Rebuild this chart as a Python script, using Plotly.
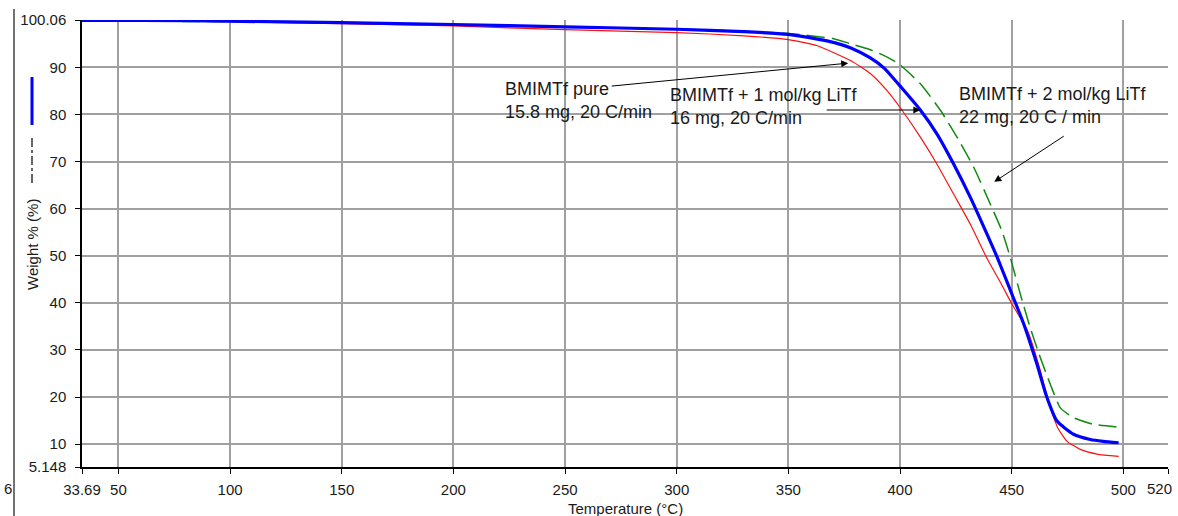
import plotly.graph_objects as go

# ---- data ----
temp_pure = [33.69, 60, 100, 150, 200, 250, 300, 330, 350, 363, 378, 386.7, 394.1, 400.9, 409.1,
             416.5, 424, 431.5, 439.1, 445.1, 450.3, 457.2, 462.9, 466.3, 470.6, 474.8, 480.7, 488.2, 497.9]
wt_pure = [99.9, 99.9, 99.7, 99.3, 98.8, 98.0, 97.4, 96.7, 95.9, 94.6, 91.4, 88.7, 85.1, 80.9, 75.2,
           69.5, 63.1, 56.7, 49.3, 44.2, 39.6, 34.0, 25.5, 19.1, 13.5, 10.6, 8.9, 7.9, 7.4]

temp_1mol = [33.69, 60, 100, 150, 200, 250, 300, 330, 350, 363, 371, 378, 386.7, 393, 401, 409, 416.5,
             424, 431.5, 438, 443.4, 449.4, 455.4, 461.3, 465.8, 470.3, 477.7, 485.2, 491, 497.9]
wt_1mol = [100.0, 100.0, 99.8, 99.5, 99.1, 98.6, 98.1, 97.6, 97.0, 96.0, 95.2, 94.1, 92.0, 89.8, 85.5, 81.0, 75.9,
           69.5, 62.4, 55.6, 49.8, 42.7, 35.5, 27.0, 19.9, 14.9, 12.1, 11.0, 10.6, 10.3]

temp_2mol = [33.69, 60, 100, 150, 200, 250, 300, 330, 350, 370.2, 378, 385.2, 392, 399.3, 409.1, 418.1,
             425.5, 433, 440.4, 445.6, 449.4, 453.9, 458.3, 462.8, 467.3, 471.8, 477.7, 486.7, 497.9]
wt_2mol = [99.8, 99.8, 99.7, 99.4, 99.0, 98.6, 98.1, 97.7, 97.2, 96.1, 95.0, 94.0, 92.7, 90.8, 86.5, 80.9,
           75.2, 68.8, 61.0, 55.3, 49.6, 41.8, 34.7, 28.4, 22.7, 17.7, 15.6, 14.2, 13.6]

x_tickvals = [33.69, 50, 100, 150, 200, 250, 300, 350, 400, 450, 500, 520]
x_ticktext = ["33.69", "50", "100", "150", "200", "250", "300", "350", "400", "450", "500", "520"]
y_tickvals = [5.148, 10, 20, 30, 40, 50, 60, 70, 80, 90, 100.06]
y_ticktext = ["5.148", "10", "20", "30", "40", "50", "60", "70", "80", "90", "100.06"]

label_pure = "BMIMTf pure<br>15.8 mg, 20 C/min"
label_1mol = "BMIMTf + 1 mol/kg LiTf<br>16 mg, 20 C/min"
label_2mol = "BMIMTf + 2 mol/kg LiTf<br>22 mg, 20 C / min"

FONT = "Liberation Sans, Arial, sans-serif"
TXT = "#1a1a1a"

fig = go.Figure()
fig.add_trace(go.Scatter(x=temp_2mol, y=wt_2mol, mode="lines",
                         line=dict(color="#108a10", width=1.5, dash="18px,7px", shape="spline", smoothing=0.5),
                         showlegend=False))
fig.add_trace(go.Scatter(x=temp_pure, y=wt_pure, mode="lines",
                         line=dict(color="#ff1010", width=1.2, shape="spline", smoothing=0.5), showlegend=False))
fig.add_trace(go.Scatter(x=temp_1mol, y=wt_1mol, mode="lines",
                         line=dict(color="#0000ff", width=3.2, shape="spline", smoothing=0.5), showlegend=False))

L, T_, W, H = 82, 20, 1086, 447

def px(xp):
    return (xp - L) / W

def py(yp):
    return (T_ + H - yp) / H

ann_font = dict(size=18, color=TXT, family=FONT)
annotations = [
    dict(x=222.3, y=82.9, xref="x", yref="y", text=label_pure, showarrow=False,
         xanchor="left", yanchor="middle", align="left", font=ann_font),
    dict(x=296.2, y=81.7, xref="x", yref="y", text=label_1mol, showarrow=False,
         xanchor="left", yanchor="middle", align="left", font=ann_font),
    dict(x=425.6, y=82.0, xref="x", yref="y", text=label_2mol, showarrow=False,
         xanchor="left", yanchor="middle", align="left", font=ann_font),
    # arrows
    dict(x=376.8, y=90.9, ax=270.2, ay=86.0, xref="x", yref="y", axref="x", ayref="y",
         text="", showarrow=True, arrowhead=2, arrowsize=1.4, arrowwidth=1, arrowcolor="#000", standoff=0, startstandoff=0),
    dict(x=409.1, y=80.95, ax=366.5, ay=80.95, xref="x", yref="y", axref="x", ayref="y",
         text="", showarrow=True, arrowhead=2, arrowsize=1.4, arrowwidth=1, arrowcolor="#000", standoff=0, startstandoff=0),
    dict(x=442.2, y=65.7, ax=474.0, ay=75.6, xref="x", yref="y", axref="x", ayref="y",
         text="", showarrow=True, arrowhead=2, arrowsize=1.4, arrowwidth=1, arrowcolor="#000", standoff=0, startstandoff=0),
    # axis titles
    dict(x=px(32), y=py(245), xref="paper", yref="paper", text="Weight % (%)", textangle=-90,
         showarrow=False, xanchor="center", yanchor="middle", font=dict(size=15, color=TXT, family=FONT)),
    dict(x=px(625), y=py(508), xref="paper", yref="paper", text="Temperature (°C)",
         showarrow=False, xanchor="center", yanchor="middle", font=dict(size=15, color=TXT, family=FONT)),
    dict(x=px(14), y=py(488), xref="paper", yref="paper", text="6",
         showarrow=False, xanchor="right", yanchor="middle", font=dict(size=15, color=TXT, family=FONT)),
    # last x tick label, right-aligned so it stays inside the page
    dict(x=px(1174), y=py(488), xref="paper", yref="paper", text=x_ticktext[-1],
         showarrow=False, xanchor="right", yanchor="middle", font=dict(size=15, color=TXT, family=FONT)),
]

shapes = [
    dict(type="line", xref="paper", yref="paper", x0=px(14), x1=px(14), y0=py(9), y1=py(530),
         line=dict(color="#444", width=1.5)),
    dict(type="line", xref="paper", yref="paper", x0=px(32), x1=px(32), y0=py(77), y1=py(125),
         line=dict(color="#0000ff", width=3)),
    dict(type="line", xref="paper", yref="paper", x0=px(32), x1=px(32), y0=py(138), y1=py(184),
         line=dict(color="#333", width=1.5, dash="dashdot")),
]

fig.update_layout(
    width=1178, height=516,
    margin=dict(l=L, r=1178 - L - W, t=T_, b=516 - T_ - H, autoexpand=False),
    paper_bgcolor="white", plot_bgcolor="white",
    font=dict(family=FONT, size=15, color=TXT),
    annotations=annotations, shapes=shapes,
    xaxis=dict(range=[33.69, 520], tickmode="array", tickvals=x_tickvals,
               ticktext=x_ticktext[:-1] + [""],
               showgrid=True, gridcolor="#a0a0a0", gridwidth=1.5, zeroline=False, automargin=False,
               showline=True, linecolor="#000", linewidth=1.5, ticks="outside", ticklen=5,
               tickcolor="#000", tickwidth=1.2, ticklabelstandoff=3, ticklabeloverflow="allow",
               tickfont=dict(size=15, color=TXT)),
    yaxis=dict(range=[5.148, 100.06], tickmode="array", tickvals=y_tickvals, ticktext=y_ticktext,
               showgrid=True, gridcolor="#a0a0a0", gridwidth=1.5, zeroline=False, automargin=False,
               showline=True, linecolor="#000", linewidth=1.5, ticks="outside", ticklen=5,
               tickcolor="#000", tickwidth=1.2, ticklabelstandoff=6, ticklabeloverflow="allow",
               tickfont=dict(size=15, color=TXT)),
)

fig.write_html("out.html", config={"displayModeBar": False},
               post_script="document.body.style.margin='0px';document.body.style.overflow='hidden';")
